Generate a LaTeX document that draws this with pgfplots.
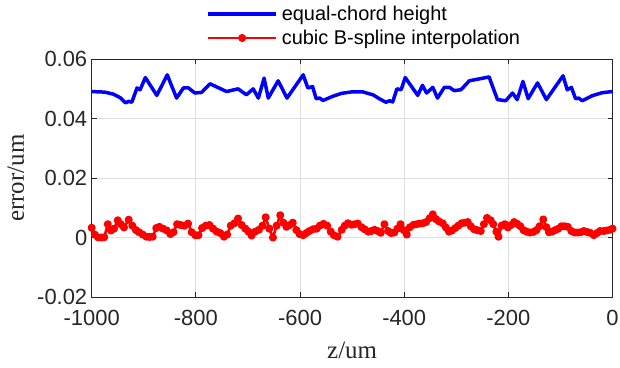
\documentclass[border=0pt]{standalone}
\usepackage{pgfplots}
\pgfplotsset{compat=1.18}
\usepackage{pgfplotstable}
\usepackage{fontspec}
\setmainfont{Liberation Sans}
\newfontfamily\timesfont{Liberation Serif}
\definecolor{axgray}{gray}{0.15}
\definecolor{gridgray}{gray}{0.87}

\pgfplotstableread{
x y
-1000 0.0491
-975 0.0489
-958 0.0482
-945 0.0470
-935 0.0453
-929 0.0458
-923 0.0455
-913 0.0503
-907 0.0497
-897 0.0538
-875 0.0478
-855 0.0547
-837 0.0469
-824 0.0503
-814 0.0503
-802 0.0486
-789 0.0488
-773 0.0517
-741 0.0491
-719 0.0500
-703 0.0480
-690 0.0500
-680 0.0469
-669 0.0536
-661 0.0469
-642 0.0527
-625 0.0469
-594 0.0547
-585 0.0503
-576 0.0508
-569 0.0467
-562 0.0469
-556 0.0461
-537 0.0475
-520 0.0485
-500 0.0490
-480 0.0490
-460 0.0480
-447 0.0466
-435 0.0455
-428 0.0460
-422 0.0456
-414 0.0500
-406 0.0497
-398 0.0538
-374 0.0478
-365 0.0512
-357 0.0486
-345 0.0505
-336 0.0469
-323 0.0505
-313 0.0505
-304 0.0494
-291 0.0497
-275 0.0527
-237 0.0540
-221 0.0464
-205 0.0460
-192 0.0486
-183 0.0464
-172 0.0525
-162 0.0467
-144 0.0520
-127 0.0464
-95 0.0544
-87 0.0497
-79 0.0505
-71 0.0467
-65 0.0469
-58 0.0460
-39 0.0477
-20 0.0487
0 0.0491
}\bluedata

\pgfplotstableread{
x y
-1000 0.0033
-994 0.0010
-988 0.0001
-982 0.0000
-976 0.0001
-969 0.0045
-963 0.0024
-957 0.0030
-950 0.0058
-944 0.0045
-938 0.0034
-929 0.0060
-922 0.0040
-915 0.0025
-909 0.0018
-902 0.0010
-895 0.0003
-889 0.0002
-883 0.0003
-876 0.0032
-870 0.0036
-863 0.0030
-856 0.0024
-849 0.0012
-843 0.0018
-836 0.0045
-829 0.0042
-822 0.0040
-815 0.0047
-808 0.0018
-801 0.0008
-795 0.0008
-788 0.0032
-781 0.0040
-774 0.0042
-767 0.0030
-760 0.0020
-753 0.0015
-746 0.0003
-740 0.0010
-733 0.0040
-726 0.0048
-719 0.0064
-712 0.0042
-705 0.0030
-699 0.0020
-693 0.0007
-686 0.0020
-679 0.0026
-672 0.0040
-666 0.0068
-659 0.0030
-652 0.0000
-645 0.0040
-638 0.0075
-632 0.0050
-626 0.0036
-620 0.0042
-614 0.0050
-607 0.0025
-601 0.0012
-594 0.0008
-588 0.0015
-582 0.0022
-575 0.0028
-568 0.0030
-562 0.0040
-555 0.0046
-548 0.0040
-541 0.0020
-535 0.0008
-528 0.0003
-520 0.0026
-514 0.0040
-508 0.0048
-501 0.0043
-495 0.0045
-489 0.0047
-482 0.0035
-476 0.0028
-469 0.0020
-463 0.0022
-457 0.0026
-451 0.0022
-445 0.0016
-438 0.0045
-431 0.0022
-425 0.0015
-419 0.0017
-413 0.0030
-407 0.0045
-401 0.0025
-395 0.0010
-389 0.0035
-382 0.0043
-376 0.0045
-370 0.0047
-364 0.0048
-358 0.0052
-351 0.0065
-345 0.0078
-339 0.0062
-333 0.0054
-326 0.0048
-320 0.0034
-314 0.0020
-308 0.0024
-302 0.0032
-296 0.0040
-290 0.0048
-284 0.0050
-278 0.0052
-272 0.0038
-266 0.0028
-260 0.0025
-253 0.0022
-247 0.0045
-241 0.0066
-234 0.0058
-229 0.0045
-223 0.0020
-219 0.0003
-213 0.0040
-207 0.0045
-201 0.0034
-195 0.0042
-189 0.0052
-183 0.0046
-177 0.0038
-171 0.0025
-165 0.0020
-159 0.0017
-152 0.0019
-146 0.0025
-140 0.0038
-133 0.0061
-127 0.0035
-122 0.0018
-116 0.0020
-110 0.0025
-104 0.0030
-98 0.0038
-92 0.0038
-86 0.0036
-79 0.0022
-73 0.0017
-67 0.0017
-61 0.0018
-55 0.0022
-49 0.0019
-43 0.0016
-36 0.0008
-30 0.0015
-24 0.0022
-17 0.0022
-11 0.0024
-5 0.0026
0 0.0030
}\reddata

\begin{document}
\begin{tikzpicture}
\path[use as bounding box] (-92bp,-71bp) rectangle (530bp,298bp);
\begin{axis}[
  at={(0,0)}, anchor=south west,
  scale only axis, width=522.5bp, height=238.7bp,
  xmin=-1000, xmax=0, ymin=-0.02, ymax=0.06,
  scaled y ticks=false, scaled x ticks=false,
  xtick={-1000,-800,-600,-400,-200,0},
  xticklabels={-1000,-800,-600,-400,-200,0},
  ytick={-0.02,0,0.02,0.04,0.06},
  yticklabels={-0.02,0,0.02,0.04,0.06},
  tick align=inside, major tick length=5bp,
  xmajorgrids, ymajorgrids,
  grid style={gridgray, line width=0.8bp},
  axis line style={axgray, line width=0.9bp},
  tick style={axgray, line width=0.9bp},
  ticklabel style={font=\fontsize{22bp}{26bp}\selectfont, text=axgray},
  xticklabel style={yshift=-10bp},
  yticklabel style={xshift=-1bp},
  xlabel={z/um}, ylabel={error/um},
  xlabel style={font=\timesfont\fontsize{25bp}{30bp}\selectfont, text=axgray,
    at={(axis description cs:0.5,-0.226)}, anchor=center},
  ylabel style={font=\timesfont\fontsize{25bp}{30bp}\selectfont, text=axgray,
    at={(axis description cs:-0.146,0.5)}, anchor=center},
  legend style={draw=none, fill=none, at={(axis description cs:0.2144,1)},
    anchor=south west, yshift=10bp, font=\fontsize{20bp}{24bp}\selectfont,
    nodes={inner sep=1bp}, row sep=6bp, column sep=3bp, text=black},
  legend cell align=left,
  legend image code/.code={\draw[mark repeat=2,mark phase=2,#1] plot coordinates {(0bp,0bp)(34bp,0bp)(68bp,0bp)};},
]
\addplot[blue, line width=3.5bp, line join=round] table[x=x,y=y] {\bluedata};
\addlegendentry{equal-chord height}
\addplot[red, line width=2.6bp, line join=round, mark=*, mark size=2.7bp, mark options={solid, fill=red, draw=red}] table[x=x,y=y] {\reddata};
\addlegendentry{cubic B-spline interpolation}
\end{axis}
\end{tikzpicture}
\end{document}
